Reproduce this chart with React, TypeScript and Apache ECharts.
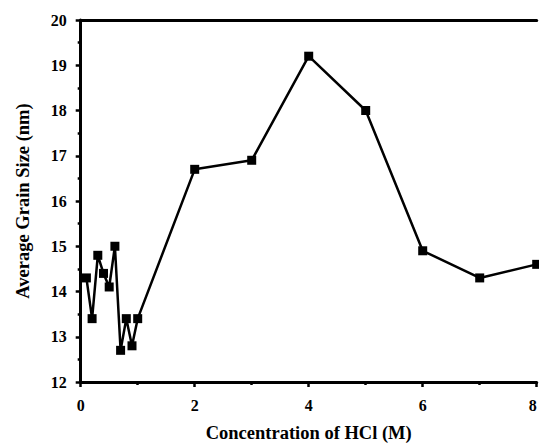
import React, { useEffect, useRef } from "react";
import * as echarts from "echarts";

const concentration = [0.1, 0.2, 0.3, 0.4, 0.5, 0.6, 0.7, 0.8, 0.9, 1.0, 2, 3, 4, 5, 6, 7, 8];
const grainSize = [14.3, 13.4, 14.8, 14.4, 14.1, 15.0, 12.7, 13.4, 12.8, 13.4, 16.7, 16.9, 19.2, 18.0, 14.9, 14.3, 14.6];
const xTitle = "Concentration of HCl (M)";
const yTitle = "Average Grain Size (nm)";

const FONT = "Liberation Serif";

export default function App() {
  const ref = useRef<HTMLDivElement>(null);
  useEffect(() => {
    document.body.style.margin = "0";
    document.body.style.overflow = "hidden";
    if (!ref.current) return;
    const chart = echarts.init(ref.current, null, { renderer: "svg", width: 539, height: 444 });
    const axisLine = { show: true, lineStyle: { color: "#000", width: 3 } };
    const labelStyle = { color: "#000", fontFamily: FONT, fontWeight: "bold" as const, fontSize: 16 };
    chart.setOption({
      animation: false,
      backgroundColor: "#fff",
      textStyle: { fontFamily: FONT },
      grid: { left: 80.7, right: 2.3, top: 20, bottom: 62, containLabel: false, outerBoundsMode: "none" },
      xAxis: [
        {
          type: "value",
          min: 0,
          max: 8,
          interval: 2,
          axisLine,
          axisTick: { show: true, length: 5, lineStyle: { color: "#000", width: 2.5 } },
          minorTick: { show: true, splitNumber: 2, length: 3, lineStyle: { color: "#000", width: 2.5 } },
          splitLine: { show: false },
          axisLabel: { ...labelStyle, margin: 15, alignMaxLabel: "right" },
          name: xTitle,
          nameLocation: "middle",
          nameGap: 41,
          nameTextStyle: { ...labelStyle, fontSize: 18.5 },
        },
        {
          type: "value",
          position: "top",
          min: 0,
          max: 8,
          interval: 2,
          axisLine,
          axisTick: { show: false },
          axisLabel: { show: false },
          splitLine: { show: false },
        },
      ],
      yAxis: {
        type: "value",
        min: 12,
        max: 20,
        interval: 1,
        axisLine,
        axisTick: { show: true, length: 5, lineStyle: { color: "#000", width: 2.5 } },
        minorTick: { show: true, splitNumber: 2, length: 3, lineStyle: { color: "#000", width: 2.5 } },
        splitLine: { show: false },
        axisLabel: { ...labelStyle, margin: 14 },
        name: yTitle,
        nameLocation: "middle",
        nameGap: 48,
        nameTextStyle: { ...labelStyle, fontSize: 18.5 },
      },
      series: [
        {
          type: "line",
          data: concentration.map((c, i) => [c, grainSize[i]]),
          symbol: "rect",
          symbolSize: 9,
          itemStyle: { color: "#000" },
          lineStyle: { color: "#000", width: 2.5 },
          clip: false,
        },
      ],
    });
    return () => chart.dispose();
  }, []);
  return <div ref={ref} style={{ width: 539, height: 444, position: "fixed", left: 0, top: 0 }} />;
}
